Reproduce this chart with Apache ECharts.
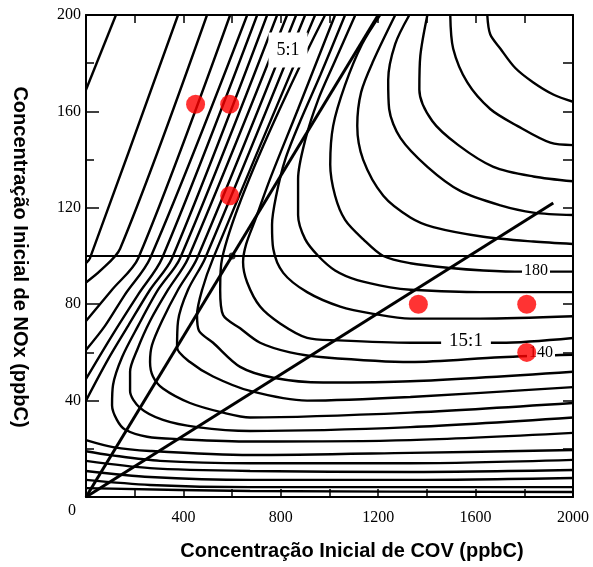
<!DOCTYPE html>
<html>
<head>
<meta charset="utf-8">
<script src="https://cdn.jsdelivr.net/npm/echarts@6/dist/echarts.min.js"></script>
<style>
html,body{margin:0;padding:0;background:#fff;}
#chart{width:593px;height:567px;}
</style>
</head>
<body>
<div id="chart"></div>
<script>
// ---- Tick labels ----
const xTickLabels = [0, 400, 800, 1200, 1600, 2000];
const yTickLabels = [0, 40, 80, 120, 160, 200];

// ---- Ozone isopleths [COV, NOx] ----
const iso230 = [[1648,200],[1660,192],[1702,186],[1763,178],[1837,172],[1919,167],[2000,164]];
const iso220 = [[1496,200],[1508,186],[1566,172],[1660,161],[1771,154],[1907,147],[2000,146]];
const iso210 = [[1402,200],[1373,183],[1369,169],[1422,156],[1529,146],[1673,137],[1837,133],[2000,131]];
const iso200 = [[1328,200],[1270,188],[1241,173],[1245,161],[1291,149],[1402,137],[1537,127],[1702,121],[1837,118],[2000,117]];
const iso190 = [[1270,200],[1180,181],[1130,168],[1114,154],[1138,140],[1221,125],[1332,116],[1426,112],[1632,108],[1837,106],[2000,105]];
const iso180 = [[1208,200],[1134,188],[1064,171],[1015,154],[1003,138],[1023,125],[1064,115],[1138,107],[1221,100],[1332,97],[1496,95],[1632,94],[1796,93.5],[2000,93.5]];
const iso170 = [[1106,200],[1023,181],[954,165],[900,148],[871,132],[871,117],[900,107],[954,100],[1023,94],[1114,90],[1249,87],[1332,86],[1619,85],[2000,85]];
const iso160 = [[1064,200],[962,175],[880,156],[818,140],[781,125],[764,113],[769,103],[810,93],[908,85],[1044,79],[1180,76],[1332,74],[1619,74],[2000,75]];
const iso150 = [[1023,200],[871,161],[756,132],[695,115],[658,105],[645,97.5],[662,89],[715,79],[797,72],[908,66],[1032,65],[1332,64],[1702,64],[2000,66]];
const iso140 = [[982,200],[559,99],[551,86],[563,75.5],[633,70],[715,64],[838,60],[974,58],[1332,56],[1702,58],[2000,59]];
const iso130 = [[941,200],[522,99],[477,86],[456,75.5],[464,69],[522,64],[633,54],[769,49.5],[974,47.5],[1332,48],[2000,52]];
const iso120 = [[900,200],[489,99],[419,86],[378,73],[374,62],[427,56],[522,50],[674,44],[908,40],[1332,41.5],[2000,45.6]];
const iso110 = [[863,200],[456,99],[378,86],[312,73],[271,63],[263,56],[275,50],[316,45],[427,39],[563,35],[674,33],[1332,35],[2000,39]];
const iso100 = [[826,200],[419,99],[337,86],[263,73],[210,61],[181,52],[181,44],[222,37],[316,32],[456,29],[674,27.4],[1332,29],[2000,33]];
const iso90  = [[785,200],[386,99],[296,86],[214,71],[148,58],[111,46.5],[107,38],[127,32],[160,28],[251,25],[386,24],[674,23],[1332,23.6],[2000,26.6]];
const iso80a = [[744,200],[353,99],[263,86],[173,71],[90,57],[0,40]];
const iso80b = [[0,23.6],[111,20.7],[263,19.1],[674,17.4],[1332,18.3],[2000,19.5]];
const iso70a = [[703,200],[312,99],[214,84],[107,67],[0,49]];
const iso70b = [[0,19],[99,17.4],[304,15],[674,14],[1332,14],[2000,15.4]];
const iso60a = [[662,200],[263,99],[160,84],[78,71],[0,61]];
const iso60b = [[0,15],[263,12],[674,10.8],[1332,10.4],[2000,11.2]];
const iso50a = [[592,200],[214,99],[107,86],[0,73]];
const iso50b = [[0,10.8],[263,8.3],[674,7.1],[1332,7.1],[2000,7.9]];
const iso40a = [[497,200],[140,103],[60,94],[0,89]];
const iso40b = [[0,7.1],[263,5],[674,4.1],[1332,4.1],[2000,4.1]];
const iso30a = [[378,200],[16,99],[0,97]];
const iso30b = [[0,3.7],[674,2.5],[2000,2.1]];
const iso20  = [[0,169],[123,200]];

// ---- Reference lines ----
const ratioLine5 = [[0,0],[1200,200]];
const ratioLine15 = [[0,0],[1919,122]];
const nox100Line = [[0,100],[2000,100]];
const ridgePoint = [[600,100]];

// ---- Red points ----
const redPoints = [[450,163],[590,163],[590,125],[1365,80],[1810,80],[1810,60]];

const isopleths = [iso230, iso220, iso210, iso200, iso190, iso180, iso170, iso160, iso150,
  iso140, iso130, iso120, iso110, iso100, iso90, iso80a, iso80b, iso70a, iso70b,
  iso60a, iso60b, iso50a, iso50b, iso40a, iso40b, iso30a, iso30b, iso20];

const chart = echarts.init(document.getElementById('chart'), null, {renderer: 'canvas'});

const serif = '"Liberation Serif", "Times New Roman", serif';
const sans = '"Liberation Sans", Arial, sans-serif';

function xAx(pos) {
  return {
    type: 'value', min: 0, max: 2000, interval: 400, position: pos,
    axisLine: {show: true, onZero: false, lineStyle: {color: '#000', width: 2}},
    axisTick: {show: true, inside: true, length: 8, lineStyle: {color: '#000', width: 1.5}},
    minorTick: {show: true, splitNumber: 2, length: 8, lineStyle: {color: '#000', width: 1.5}},
    splitLine: {show: false}, minorSplitLine: {show: false},
    axisLabel: pos === 'bottom' ? {
      show: true, margin: 13, color: '#000', fontFamily: serif, fontSize: 16,
      formatter: v => (xTickLabels.indexOf(v) > 0 ? String(v) : '')
    } : {show: false}
  };
}
function yAx(pos) {
  return {
    type: 'value', min: 0, max: 200, interval: 40, position: pos,
    axisLine: {show: true, onZero: false, lineStyle: {color: '#000', width: 2}},
    axisTick: {show: true, inside: true, length: pos === 'left' ? 13 : 10, lineStyle: {color: '#000', width: 1.5}},
    minorTick: {show: true, splitNumber: 2, length: pos === 'left' ? 8 : 10, lineStyle: {color: '#000', width: 1.5}},
    splitLine: {show: false}, minorSplitLine: {show: false},
    axisLabel: pos === 'left' ? {
      show: true, margin: 5, color: '#000', fontFamily: serif, fontSize: 16,
      formatter: v => (yTickLabels.indexOf(v) > 0 ? String(v) : '')
    } : {show: false}
  };
}

const series = isopleths.map(d => ({
  type: 'line', data: d, showSymbol: false, smooth: 0.3, silent: true,
  lineStyle: {color: '#000', width: 2.4}, z: 2
}));
series.push(
  {type: 'line', data: ratioLine5, showSymbol: false, silent: true, lineStyle: {color: '#000', width: 3}, z: 3},
  {type: 'line', data: ratioLine15, showSymbol: false, silent: true, lineStyle: {color: '#000', width: 3}, z: 3},
  {type: 'line', data: nox100Line, showSymbol: false, silent: true, lineStyle: {color: '#000', width: 2}, z: 3},
  {type: 'scatter', data: ridgePoint, symbolSize: 7, itemStyle: {color: '#000'}, silent: true, z: 4},
  {type: 'scatter', data: redPoints, symbolSize: 19, itemStyle: {color: '#ff0000'}, silent: true, z: 20}
);

chart.setOption({
  animation: false,
  backgroundColor: '#fff',
  grid: {left: 86, top: 15, width: 487, height: 482, containLabel: false},
  xAxis: [xAx('bottom'), xAx('top')],
  yAxis: [yAx('left'), yAx('right')],
  series: series,
  graphic: [
    {type: 'text', x: 20, y: 257, rotation: -Math.PI / 2, z: 10,
      style: {text: 'Concentração Inicial de NOx (ppbC)', font: 'bold 20px ' + sans, fill: '#000', align: 'center', verticalAlign: 'middle'}},
    {type: 'text', x: 352, y: 551, z: 10,
      style: {text: 'Concentração Inicial de COV (ppbC)', font: 'bold 20px ' + sans, fill: '#000', align: 'center', verticalAlign: 'middle'}},
    {type: 'text', x: 72, y: 511, z: 10,
      style: {text: '0', font: '16px ' + serif, fill: '#000', align: 'center', verticalAlign: 'middle'}},
    {type: 'text', x: 288, y: 50, z: 10,
      style: {text: '5:1', font: '18px ' + serif, fill: '#000', align: 'center', verticalAlign: 'middle', backgroundColor: '#fff', padding: [9, 8, 8, 8]}},
    {type: 'text', x: 536, y: 271, z: 10,
      style: {text: '180', font: '16px ' + serif, fill: '#000', align: 'center', verticalAlign: 'middle', backgroundColor: '#fff', padding: [1, 2]}},
    {type: 'text', x: 466, y: 341, z: 10,
      style: {text: '15:1', font: '19px ' + serif, fill: '#000', align: 'center', verticalAlign: 'middle', backgroundColor: '#fff', padding: [1, 8]}},
    {type: 'text', x: 541, y: 353, z: 10,
      style: {text: '140', font: '16px ' + serif, fill: '#000', align: 'center', verticalAlign: 'middle', backgroundColor: '#fff', padding: [1, 2]}}
  ]
});
</script>
</body>
</html>
